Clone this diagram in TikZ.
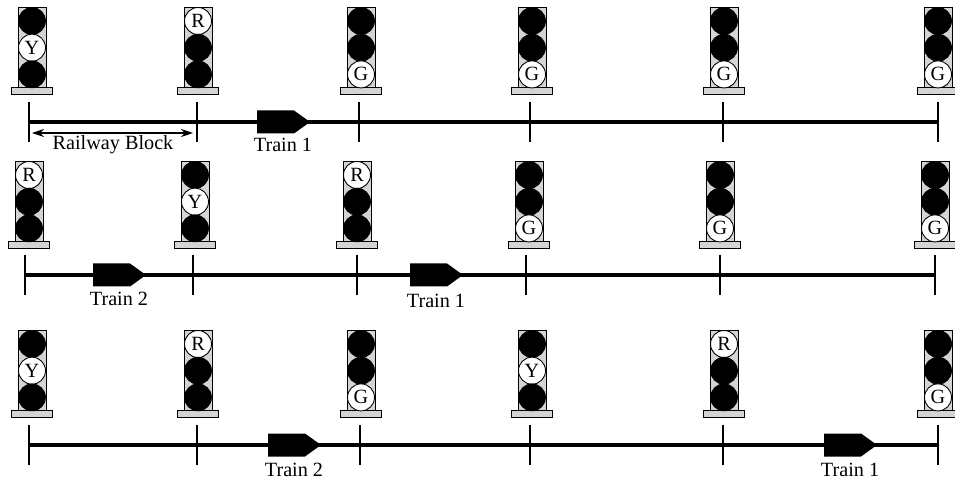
\documentclass[tikz,border=0pt]{standalone}
\usepackage{fontspec}
\setmainfont{Liberation Serif}
\usetikzlibrary{arrows.meta,positioning}

% one signal post: name, x, top of housing, lit lamp (1=R, 2=Y, 3=G)
\newcommand{\railsignal}[4]{
  \node[housing] (#1) at (#2,#3+40) {};
  \node[postbase, below=0pt of #1] (#1base) {};
  \foreach \n/\ltr in {1/R,2/Y,3/G}{
    \ifnum\n=#4
      \node[lampon] (#1l\n) at (#2,{#3+14+26.7*(\n-1)}) {\ltr};
    \else
      \node[lampoff] (#1l\n) at (#2,{#3+14+26.7*(\n-1)}) {};
    \fi
  }
}
% one track: name, y, list of block boundaries
\newcommand{\railtrack}[3]{
  \foreach \n/\x in {#3}{
    \coordinate (#1u\n) at (\x,#2-20);
    \coordinate (#1d\n) at (\x,#2+20);
    \coordinate (#1p\n) at (\x,#2);
    \draw[blockmark] (#1u\n) -- (#1d\n);
  }
  \draw[rail] (#1p1) -- (#1p6);
}
% one train: name, x of tail, y of track, label, y of label
\newcommand{\railtrain}[5]{
  \fill (#2,#3-11.5) -- ++(37,0) -- ++(16,11.5) -- ++(-16,11.5) -- ++(-37,0) -- cycle;
  \node[trainlabel] (#1) at (#2+26,#5) {#4};
}

\begin{document}
\begin{tikzpicture}[
  x=0.02cm, y=-0.02cm,
  font=\fontsize{11.5}{13}\selectfont,
  housing/.style={draw, fill=black!17, minimum width=0.56cm, minimum height=1.6cm, inner sep=0pt, line width=0.5pt},
  postbase/.style={draw, fill=black!17, minimum width=0.82cm, minimum height=0.14cm, inner sep=0pt, line width=0.5pt},
  lampoff/.style={draw, circle, fill=black, minimum size=0.54cm, inner sep=0pt},
  lampon/.style={draw, circle, fill=white, minimum size=0.54cm, inner sep=0pt, line width=0.5pt},
  rail/.style={line width=1.9pt},
  blockmark/.style={line width=1.5pt},
  trainlabel/.style={inner sep=0pt}
]
\useasboundingbox (0,0) rectangle (955,482);

% First row
\railsignal{a1}{32}{7}{2}
\railsignal{a2}{198}{7}{1}
\railsignal{a3}{361}{7}{3}
\railsignal{a4}{532}{7}{3}
\railsignal{a5}{724}{7}{3}
\railsignal{a6}{938}{7}{3}
\railtrack{a}{122}{1/29,2/197,3/359,4/530,5/723,6/938}
\railtrain{traina1}{257}{122}{Train 1}{145}

% Block length
\coordinate (blockl) at (32,133);
\coordinate (blockr) at (193,133);
\draw[line width=0.8pt, {Stealth[length=0.24cm,width=0.16cm]}-{Stealth[length=0.24cm,width=0.16cm]}] (blockl) -- (blockr);
\node[trainlabel] (blocklabel) at (113,145) {Railway Block};

% Second row
\railsignal{b1}{29}{161}{1}
\railsignal{b2}{195}{161}{2}
\railsignal{b3}{357}{161}{1}
\railsignal{b4}{529}{161}{3}
\railsignal{b5}{720}{161}{3}
\railsignal{b6}{935}{161}{3}
\railtrack{b}{275}{1/25,2/193,3/357,4/526,5/720,6/935}
\railtrain{trainb2}{93}{275}{Train 2}{299}
\railtrain{trainb1}{410}{275}{Train 1}{301}

% Third row
\railsignal{c1}{32}{330}{2}
\railsignal{c2}{198}{330}{1}
\railsignal{c3}{361}{330}{3}
\railsignal{c4}{532}{330}{2}
\railsignal{c5}{724}{330}{1}
\railsignal{c6}{938}{330}{3}
\railtrack{c}{445}{1/29,2/197,3/360,4/530,5/723,6/938}
\railtrain{trainc2}{268}{445}{Train 2}{470}
\railtrain{trainc1}{824}{445}{Train 1}{470}

\end{tikzpicture}
\end{document}
